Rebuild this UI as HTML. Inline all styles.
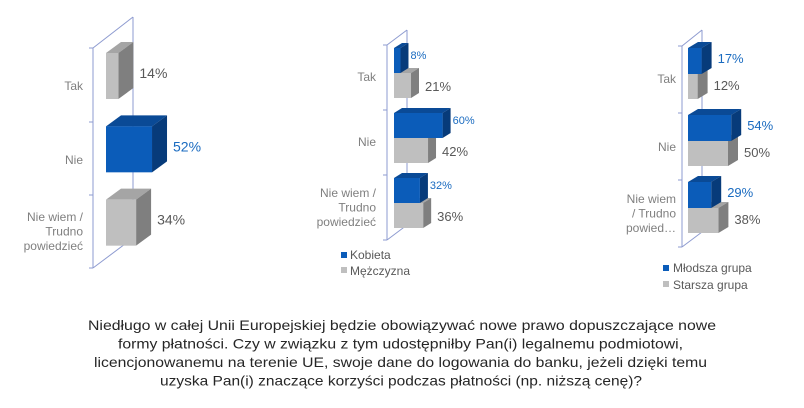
<!DOCTYPE html>
<html><head><meta charset="utf-8"><style>
body{margin:0;background:#fff}
svg{display:block;font-family:"Liberation Sans",sans-serif}
</style></head><body>
<svg id="c" width="804" height="408" viewBox="0 0 804 408"></svg>
<script>
const categories = ["Tak","Nie","Nie wiem / Trudno powiedzieć"];
const totalValues = [14,52,34];
const kobietaValues = [8,60,32];
const mezczyznaValues = [21,42,36];
const mlodszaValues = [17,54,29];
const starszaValues = [12,50,38];
const seriesNames2 = ["Kobieta","Mężczyzna"];
const seriesNames3 = ["Młodsza grupa","Starsza grupa"];
const questionLines = [
 "Niedługo w całej Unii Europejskiej będzie obowiązywać nowe prawo dopuszczające nowe",
 "formy płatności. Czy w związku z tym udostępniłby Pan(i) legalnemu podmiotowi,",
 "licencjonowanemu na terenie UE, swoje dane do logowania do banku, jeżeli dzięki temu",
 "uzyska Pan(i) znaczące korzyści podczas płatności (np. niższą cenę)?"];

const svg=document.getElementById('c');
const NS='http://www.w3.org/2000/svg';
function el(t,a,p){const e=document.createElementNS(NS,t);for(const k in a)e.setAttribute(k,a[k]);(p||svg).appendChild(e);return e;}
const BLUE={f:'#0b5cb9',t:'#0a4a96',s:'#073b7a',txt:'#1a6bc0'};
const GRAY={f:'#bfbfbf',t:'#a5a5a5',s:'#7f7f7f',txt:'#595959'};

function bar(g,x0,y,w,h,dx,dy,c,name){
  const b=el('g',{},g);
  
  
  el('polygon',{points:`${x0},${y} ${x0+dx},${y+dy} ${x0+w+dx},${y+dy} ${x0+w},${y}`,fill:c.t},b);
  el('polygon',{points:`${x0+w},${y} ${x0+w+dx},${y+dy} ${x0+w+dx},${y+h+dy} ${x0+w},${y+h}`,fill:c.s},b);
  el('rect',{x:x0,y:y,width:w,height:h,fill:c.f},b);
}
function label(g,x,y,txt,fill,size,anchor,name){
  const t=el('text',{x:x,y:y,fill:fill,'font-size':size,'text-anchor':anchor||'start'},g);
  t.textContent=txt;
  
  
  return t;
}
function axis(g,fx,top,bot,bx,btop,bbot,ticks){
  const s={stroke:'#8e9bd0','stroke-width':1,fill:'none'};
  el('line',Object.assign({x1:bx,y1:btop,x2:bx,y2:bbot},s),g);
  el('line',Object.assign({x1:fx,y1:top,x2:bx,y2:btop},s),g);
  el('line',Object.assign({x1:fx,y1:bot,x2:bx,y2:bbot},s),g);
  el('line',Object.assign({x1:fx,y1:top,x2:fx,y2:bot},s),g);
  ticks.forEach(y=>el('line',Object.assign({x1:fx-4,y1:y,x2:fx,y2:y},s),g));
}
function catLabels(g,x,lines,ys,size){
  lines.forEach((ls,i)=>ls.forEach((l,j)=>label(g,x,ys[i]+j*14.5,l,'#7f7f7f',size,'end','category-label')));
}

/* Chart 1 */
(function(){
  const g=el('g',{});
  const x0=106,sc=0.885,top=48,bot=268,band=(bot-top)/3;
  axis(g,93,top,bot,133,17,238,[48,122,195,268]);
  totalValues.forEach((v,i)=>{
    const w=v*sc,y=top+i*band+5,h=46,c=i==1?BLUE:GRAY;
    bar(g,x0,y,w,h,15,-11,c,'bar-total-'+i);
    label(g,x0+w+21,y+h/2+2,v+'%',c.txt,14,'start','value-label');
  });
  catLabels(g,83,[["Tak"],["Nie"],["Nie wiem /","Trudno","powiedzieć"]],[90,164,221],12);
})();

/* Chart 2 */
(function(){
  const g=el('g',{});
  const x0=394,sc=0.81,top=45,bot=240,band=(bot-top)/3;
  axis(g,387,top,bot,407,30,225,[45,110,175,240]);
  categories.forEach((c,i)=>{
    const yb=top+i*band;
    const wm=mezczyznaValues[i]*sc,wk=kobietaValues[i]*sc;
    bar(g,x0,yb+28,wm,25,8,-5,GRAY,'bar-mezczyzna-'+i);
    label(g,x0+wm+14,yb+46,mezczyznaValues[i]+'%',GRAY.txt,13,'start','value-label');
    bar(g,x0,yb+3,wk,25,8,-5,BLUE,'bar-kobieta-'+i);
    label(g,x0+wk+10,yb+14,kobietaValues[i]+'%',BLUE.txt,11,'start','value-label');
  });
  catLabels(g,376,[["Tak"],["Nie"],["Nie wiem /","Trudno","powiedzieć"]],[81,146,197],12);
  const lg=el('g',{},g);
  el('rect',{x:341,y:252,width:6,height:6,fill:BLUE.f},lg);
  label(lg,350,259,seriesNames2[0],'#595959',12,'start','legend-entry');
  el('rect',{x:341,y:267,width:6,height:6,fill:GRAY.f},lg);
  label(lg,350,275,seriesNames2[1],'#595959',12,'start','legend-entry');
})();

/* Chart 3 */
(function(){
  const g=el('g',{});
  const x0=688,sc=0.8,top=46,bot=247,band=(bot-top)/3;
  axis(g,682,top,bot,702,30,232,[46,113,180,247]);
  categories.forEach((c,i)=>{
    const yb=top+i*band;
    const ws=starszaValues[i]*sc,wm=mlodszaValues[i]*sc;
    bar(g,x0,yb+28,ws,25,10,-6,GRAY,'bar-starsza-'+i);
    label(g,x0+ws+16,yb+44,starszaValues[i]+'%',GRAY.txt,13,'start','value-label');
    bar(g,x0,yb+2,wm,26,10,-6,BLUE,'bar-mlodsza-'+i);
    label(g,x0+wm+16,yb+17,mlodszaValues[i]+'%',BLUE.txt,13,'start','value-label');
  });
  catLabels(g,676,[["Tak"],["Nie"],["Nie wiem","/ Trudno","powied…"]],[83,151,203],12);
  const lg=el('g',{},g);
  el('rect',{x:663,y:265,width:6,height:6,fill:BLUE.f},lg);
  label(lg,673,272,seriesNames3[0],'#595959',12,'start','legend-entry');
  el('rect',{x:663,y:281,width:6,height:6,fill:GRAY.f},lg);
  label(lg,673,289,seriesNames3[1],'#595959',12,'start','legend-entry');
})();

/* Question */
(function(){
  const g=el('g',{});
  const spans=[[88,628],[118,565],[94,613],[160,482]];
  questionLines.forEach((l,i)=>{
    const t=label(g,spans[i][0],330+i*18.5,l,'#262626',14,'start','question-line');
    t.setAttribute('textLength',spans[i][1]);
    t.setAttribute('lengthAdjust','spacingAndGlyphs');
  });
})();
</script>
</body></html>
